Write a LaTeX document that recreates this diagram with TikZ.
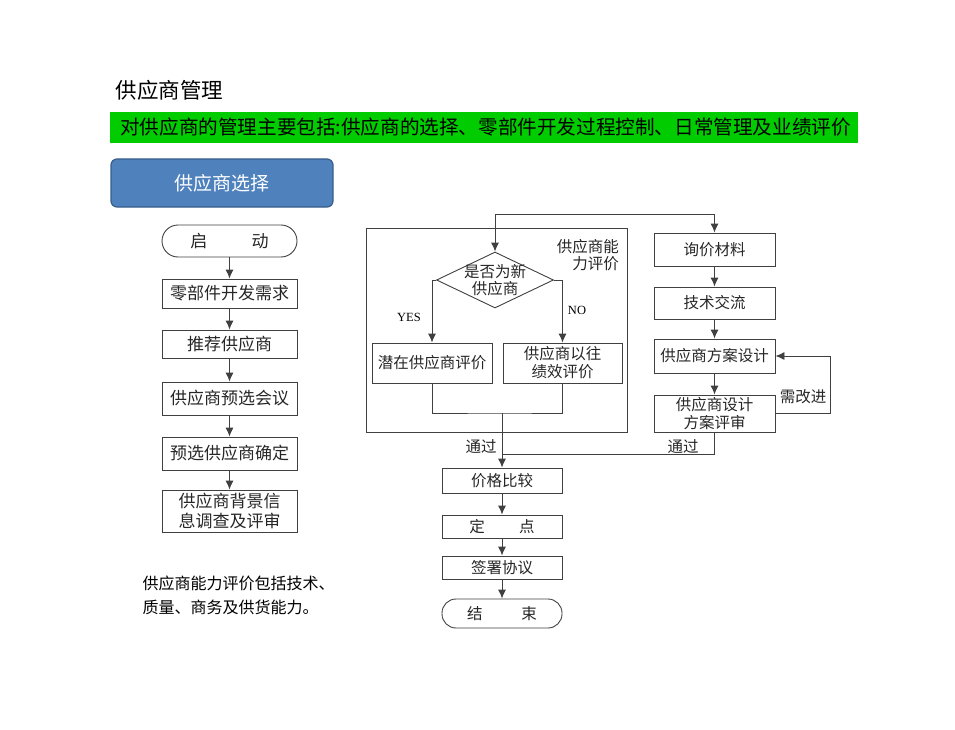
\documentclass[tikz,border=0pt]{standalone}
\usepackage{fontspec}
\setmainfont{Noto Sans CJK SC}
\newfontfamily\latinserif{Liberation Serif}
\usetikzlibrary{shapes.geometric,arrows.meta}
\definecolor{barGreen}{HTML}{00CC00}
\definecolor{headBlue}{HTML}{4F81BD}
\definecolor{headEdge}{HTML}{385D8A}
\definecolor{lineGray}{HTML}{404040}
\begin{document}
\begin{tikzpicture}[x=1pt,y=-1pt,
    box/.style={draw=lineGray,line width=0.9pt,inner sep=0pt,minimum width=#1,align=center,text=black!85,font=\fontsize{15.5}{18}\selectfont},
    box/.default=121,
    lbox/.style={box=135,font=\fontsize{17}{20}\selectfont},
    term/.style={box=#1,rounded corners=14pt},
    arr/.style={-{Latex[length=9pt,width=8pt]},draw=lineGray,line width=0.9pt},
    wire/.style={draw=lineGray,line width=0.9pt},
    lbl/.style={text=black!85,font=\fontsize{15.5}{17.5}\selectfont}]
      \useasboundingbox (0,0) rectangle (955,730);
      \node[anchor=west,font=\fontsize{21.5}{24}\selectfont] (title) at (112,90) {供应商管理};
      \node[fill=barGreen,inner sep=0pt,minimum width=748,minimum height=31,anchor=west] (bar) at (110,127.5) {};
      \node[anchor=west,inner sep=0pt,font=\fontsize{19.6}{22}\selectfont] (bartext) at (120,127.5) {对供应商的管理主要包括:供应商的选择、零部件开发过程控制、日常管理及业绩评价};
      \node[fill=headBlue,draw=headEdge,line width=1.2pt,rounded corners=6pt,minimum width=222,minimum height=48,text=white,font=\fontsize{19}{22}\selectfont] (sel) at (222,183) {供应商选择};
      \node[term=135,minimum height=32,font=\fontsize{17}{20}\selectfont,rounded corners=16pt] (s0) at (229.5,241) {启\hspace{2.6em}动};
      \node[lbox,minimum height=29] (s1) at (229.5,293.5) {零部件开发需求};
      \node[lbox,minimum height=28] (s2) at (229.5,344) {推荐供应商};
      \node[lbox,minimum height=33] (s3) at (229.5,398.5) {供应商预选会议};
      \node[lbox,minimum height=33] (s4) at (229.5,453.5) {预选供应商确定};
      \node[lbox,minimum height=42] (s5) at (229.5,511) {供应商背景信\\息调查及评审};
      \draw[arr] (s0) -- (s1);
      \draw[arr] (s1) -- (s2);
      \draw[arr] (s2) -- (s3);
      \draw[arr] (s3) -- (s4);
      \draw[arr] (s4) -- (s5);
      \node[anchor=west,align=left,font=\fontsize{16}{24}\selectfont] (note) at (139,595) {供应商能力评价包括技术、\\质量、商务及供货能力。};
      \node[draw=lineGray,line width=0.9pt,inner sep=0pt,minimum width=261,minimum height=204] (frame) at (496.5,330) {};
      \node[lbl,align=right,anchor=north east,inner sep=0pt] (framelbl) at (619,239) {供应商能\\力评价};
      \node[diamond,draw=lineGray,line width=0.9pt,inner sep=0pt,minimum width=117,minimum height=56] (q) at (495,280) {};
      \node[lbl,align=center,inner sep=0pt,font=\fontsize{15.5}{17}\selectfont] (qtext) at (495,280) {是否为新\\供应商};
      \node[box=120,minimum height=40] (p1) at (432,363) {潜在供应商评价};
      \node[box=119,minimum height=40] (p2) at (562.5,363) {供应商以往\\绩效评价};
      \node[font=\latinserif\fontsize{12.5}{14}\selectfont] (yes) at (409,317) {YES};
      \node[font=\latinserif\fontsize{12.5}{14}\selectfont] (no) at (577,310) {NO};
      \node[box=121,minimum height=33] (r1) at (714.5,249.5) {询价材料};
      \node[box=121,minimum height=32] (r2) at (714.5,303) {技术交流};
      \node[box=121,minimum height=34] (r3) at (714.5,356) {供应商方案设计};
      \node[box=121,minimum height=37] (r4) at (714.5,413.5) {供应商设计\\方案评审};
      \node[box=120,minimum height=25] (m1) at (502,480.5) {价格比较};
      \node[box=120,minimum height=23] (m2) at (502,526.5) {定\hspace{2.2em}点};
      \node[box=120,minimum height=23] (m3) at (502,567.5) {签署协议};
      \node[term=120,minimum height=29] (m4) at (502,613.5) {结\hspace{2.5em}束};
      \coordinate (fork) at (495,214);
      \coordinate (merge) at (502,413);
      \coordinate (pass) at (502,454);
      \draw[arr] (fork) -- (q.north);
      \draw[arr] (fork) -| (r1.north);
      \draw[arr] (q.west) -| (p1.north);
      \draw[arr] (q.east) -| (p2.north);
      \draw[wire] (p1.south) |- (merge) -| (p2.south);
      \draw[arr] (merge) -- (m1.north);
      \draw[wire] (r4.south) |- (pass);
      \draw[arr] (r1) -- (r2);
      \draw[arr] (r2) -- (r3);
      \draw[arr] (r3) -- (r4);
      \draw[arr] (r4.east) -- ++(55,0) |- (r3.east);
      \node[lbl] (ok1) at (481,447) {通过};
      \node[lbl] (ok2) at (683,447) {通过};
      \node[lbl] (redo) at (803,397) {需改进};
      \draw[arr] (m1) -- (m2);
      \draw[arr] (m2) -- (m3);
      \draw[arr] (m3) -- (m4);
    \end{tikzpicture}
\end{document}
